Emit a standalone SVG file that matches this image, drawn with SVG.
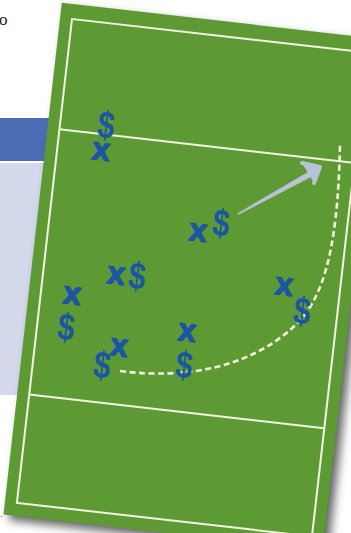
<svg xmlns="http://www.w3.org/2000/svg" width="351" height="533" viewBox="0 0 351 533">
<style>
.ln{fill:none;stroke:#f3f4e2;stroke-width:2}
.pl{font-family:"Liberation Sans",Arial,sans-serif;font-weight:700;font-size:32px;fill:#1b56a3;text-anchor:middle}
.x{stroke:#1b56a3;stroke-width:1.4;stroke-linejoin:round}
.d{font-size:38px}
.dash{fill:none;stroke:#f3f3e0;stroke-width:2.6;stroke-dasharray:6 3.5}
.arr{fill:#b8c2d8;stroke:#b8c2d8}
</style>
<defs>
<filter id="sh" x="-20%" y="-20%" width="140%" height="140%"><feGaussianBlur stdDeviation="5"/></filter>
</defs>
<g id="background">
<rect x="0" y="0" width="351" height="533" fill="#ffffff"/>
<rect x="0" y="118" width="140" height="43" fill="#4c6db3"/>
<rect x="0" y="163" width="140" height="232" fill="#d3d8eb"/>
<text x="-1" y="25" font-family="Liberation Serif,serif" font-size="17" fill="#222">o</text>
<text x="0" y="517" font-family="Liberation Sans,sans-serif" font-size="9" fill="#444">.</text>
</g>
<g id="field" transform="translate(72,19) rotate(6.5)">
<rect x="-10" y="-12" width="321" height="515" fill="#3a3a3a" opacity="0.8" filter="url(#sh)" transform="translate(4,2)"/>
<rect x="-12" y="-15" width="321" height="515" fill="#5e9a33"/>
<rect class="ln" x="0" y="0" width="297" height="487"/>
<line class="ln" x1="0" y1="111" x2="297" y2="111"/>
<line class="ln" x1="0" y1="378" x2="297" y2="378"/>
</g>
<g id="connectors">
<path class="dash" d="M120,371 C190,380 250,365 290,330 C320,305 338,260 340,143"/>
<polygon class="arr" stroke-width="0.5" points="237.7,213.4 312.6,169.5 315.4,174.5 238.3,214.6"/>
<path class="arr" fill="none" stroke-width="4" stroke-linecap="round" stroke-linejoin="round" d="M302,163 L320,167 L314,183"/>
</g>
<g id="p1"><g transform="translate(106,125) rotate(6.5) scale(0.8,1)"><text class="pl d" y="13">$</text></g><g transform="translate(101,152) rotate(6.5)"><text class="pl x" y="8">x</text></g></g>
<g id="p2"><g transform="translate(198,233) rotate(6.5)"><text class="pl x" y="8">x</text></g><g transform="translate(221,223) rotate(6.5) scale(0.8,1)"><text class="pl d" y="13">$</text></g></g>
<g id="p3"><g transform="translate(116,276) rotate(6.5)"><text class="pl x" y="8">x</text></g><g transform="translate(137,276) rotate(6.5) scale(0.8,1)"><text class="pl d" y="13">$</text></g></g>
<g id="p4"><g transform="translate(72,296) rotate(6.5)"><text class="pl x" y="8">x</text></g><g transform="translate(66,327) rotate(6.5) scale(0.8,1)"><text class="pl d" y="13">$</text></g></g>
<g id="p5"><g transform="translate(119,348) rotate(6.5)"><text class="pl x" y="8">x</text></g><g transform="translate(102,365) rotate(6.5) scale(0.8,1)"><text class="pl d" y="13">$</text></g></g>
<g id="p6"><g transform="translate(187,333) rotate(6.5)"><text class="pl x" y="8">x</text></g><g transform="translate(184,365) rotate(6.5) scale(0.8,1)"><text class="pl d" y="13">$</text></g></g>
<g id="p7"><g transform="translate(284,287) rotate(6.5)"><text class="pl x" y="8">x</text></g><g transform="translate(302,311) rotate(6.5) scale(0.8,1)"><text class="pl d" y="13">$</text></g></g>
</svg>
